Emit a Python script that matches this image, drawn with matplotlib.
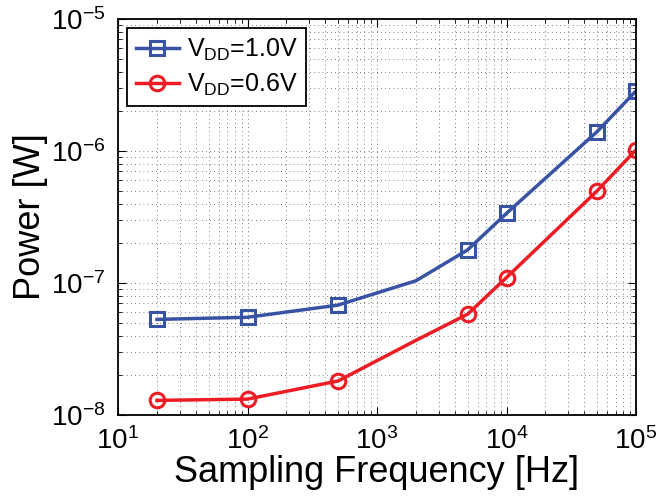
import matplotlib
matplotlib.use("Agg")
import matplotlib.pyplot as plt

plt.rcParams["font.family"] = ["Liberation Sans", "DejaVu Sans"]
plt.rcParams["mathtext.fontset"] = "custom"
plt.rcParams["mathtext.rm"] = "Liberation Sans"
plt.rcParams["mathtext.it"] = "Liberation Sans"
plt.rcParams["mathtext.default"] = "regular"

freq = [20, 100, 500, 2000, 5000, 10000, 50000, 100000]
power_10v = [5.3e-8, 5.5e-8, 6.8e-8, 1.04e-7, 1.78e-7, 3.37e-7, 1.4e-6, 2.85e-6]
power_06v = [1.29e-8, 1.32e-8, 1.81e-8, 3.68e-8, 5.8e-8, 1.1e-7, 4.98e-7, 1.02e-6]
marked = [0, 1, 2, 4, 5, 6, 7]  # the 2 kHz point has no marker
labels = ["V$_{DD}$=1.0V", "V$_{DD}$=0.6V"]

blue = "#3953a4"
red = "#ed1c24"

fig = plt.figure(figsize=(6.57, 5.03), dpi=100)
ax = fig.add_axes([118 / 657, 1 - 415 / 503, 518 / 657, 396 / 503])

ax.loglog(freq, power_10v, "-s", color=blue, lw=2.5, ms=9.5, mew=2.2,
          mfc="none", markevery=marked, label=labels[0])
ax.loglog(freq, power_06v, "-o", color=red, lw=2.5, ms=10.5, mew=2.2,
          mfc="none", markevery=marked, label=labels[1])

ax.set_xlim(10, 1e5)
ax.set_ylim(1e-8, 1e-5)
ax.grid(True, which="both", linestyle=(0, (1, 4)), color="#555555", linewidth=0.6)
ax.tick_params(which="both", direction="in", top=True, right=True, labelsize=20, pad=9)
ax.tick_params(which="major", length=6)
ax.tick_params(which="minor", length=3)
for s in ax.spines.values():
    s.set_linewidth(1.3)

ax.set_xlabel("Sampling Frequency [Hz]", fontsize=26, labelpad=0)
ax.set_ylabel("Power [W]", fontsize=26, labelpad=2)

leg = ax.legend(loc="upper left", fontsize=18, frameon=True, fancybox=False,
                edgecolor="black", handlelength=1.75, borderaxespad=0.35,
                handletextpad=0.3, borderpad=0.35, labelspacing=0.35,
                framealpha=1)
leg.get_frame().set_linewidth(1.3)

fig.savefig("out.png", dpi=100)
